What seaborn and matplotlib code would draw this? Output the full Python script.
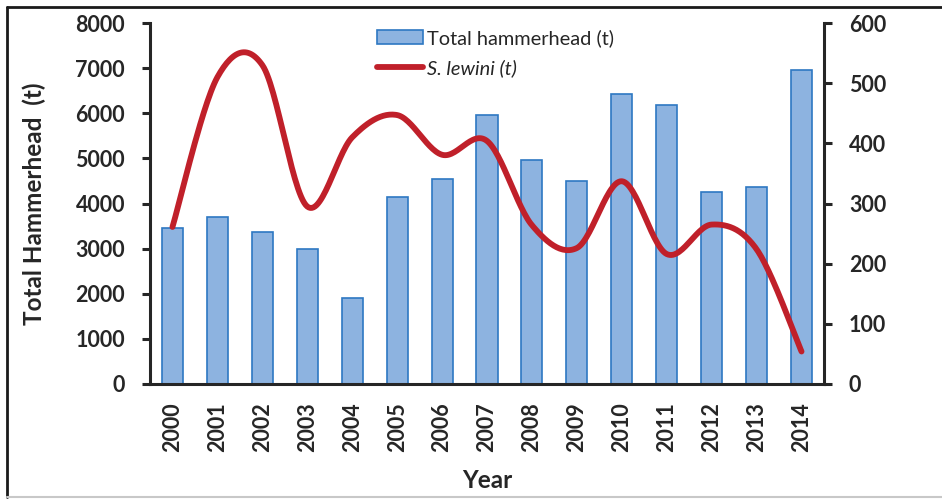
import numpy as np
import pandas as pd
import seaborn as sns
import matplotlib.pyplot as plt
from matplotlib.lines import Line2D

# data
years = [str(y) for y in range(2000, 2015)]
total_hammerhead = [3450, 3710, 3370, 2990, 1900, 4150, 4540, 5960, 4960, 4500,
                    6430, 6190, 4250, 4360, 6950]
s_lewini = [261, 510, 530, 295, 410, 447, 381, 404, 264, 226, 337, 216, 265, 224, 54]

BAR_FILL = "#8DB3E0"
BAR_EDGE = "#2E78C2"
LINE_RED = "#C0202A"
INK = "#262626"

df = pd.DataFrame({"Year": years, "Total": total_hammerhead, "Lewini": s_lewini})

sns.set_style("white")
plt.rcParams["font.family"] = ["Lato", "DejaVu Sans"]

fig = plt.figure(figsize=(9.42, 4.99), dpi=100)
ax = fig.add_axes([150 / 942, 1 - 384 / 499, 674 / 942, 361 / 499])

sns.barplot(data=df, x="Year", y="Total", color=BAR_FILL, width=0.47,
            edgecolor=BAR_EDGE, linewidth=1.2, saturation=1, ax=ax)
ax.set_xlim(-0.5, len(years) - 0.5)
ax.set_ylim(0, 8000)
ax.set_yticks(range(0, 8001, 1000))

# smoothed line like Excel (Catmull-Rom through the points)
def smooth(vals, steps=30):
    v = np.asarray(vals, dtype=float)
    n = len(v)
    xs, ys = [], []
    for i in range(n - 1):
        p0 = v[i - 1] if i > 0 else v[i]
        p3 = v[i + 2] if i + 2 < n else v[i + 1]
        x0 = i - 1 if i > 0 else i
        x3 = i + 2 if i + 2 < n else i + 1
        m1y, m2y = (v[i + 1] - p0) / 2, (p3 - v[i]) / 2
        m1x, m2x = (i + 1 - x0) / 2, (x3 - i) / 2
        t = np.linspace(0, 1, steps)
        h00 = 2 * t**3 - 3 * t**2 + 1
        h10 = t**3 - 2 * t**2 + t
        h01 = -2 * t**3 + 3 * t**2
        h11 = t**3 - t**2
        xs.append(h00 * i + h10 * m1x + h01 * (i + 1) + h11 * m2x)
        ys.append(h00 * v[i] + h10 * m1y + h01 * v[i + 1] + h11 * m2y)
    return np.concatenate(xs), np.concatenate(ys)

ax2 = ax.twinx()
sx, sy = smooth(df["Lewini"])
ax2.plot(sx, sy, color=LINE_RED, lw=4.2, solid_capstyle="round")
ax2.set_ylim(0, 600)
ax2.set_yticks(range(0, 601, 100))
ax2.set_xlim(-0.5, len(years) - 0.5)

# axes styling
for a in (ax, ax2):
    a.spines["top"].set_visible(False)
    a.grid(False)
ax.spines["right"].set_visible(False)
ax2.spines["left"].set_visible(False)
ax2.spines["bottom"].set_visible(False)
for sp in (ax.spines["left"], ax.spines["bottom"], ax2.spines["right"]):
    sp.set_linewidth(2.2)
    sp.set_color(INK)

ax.tick_params(axis="y", direction="out", length=6, width=2.2, color=INK,
               labelsize=15.5, labelcolor=INK, pad=12)
ax2.tick_params(axis="y", direction="out", length=6, width=2.2, color=INK,
                labelsize=15.5, labelcolor=INK, pad=12)
ax.set_xticks(range(len(years)))
ax.set_xticklabels(years, rotation=90)
ax.set_xticks(np.arange(-0.5, len(years), 1), minor=True)
ax.tick_params(axis="x", which="major", length=0, labelsize=15.5, labelcolor=INK, pad=13)
ax.tick_params(axis="x", which="minor", direction="out", length=7, width=2.2, color=INK)
for lab in ax.get_xticklabels() + ax.get_yticklabels() + ax2.get_yticklabels():
    lab.set_fontweight("bold")

ax.set_xlabel("Year", fontsize=17.5, fontweight="bold", color=INK, labelpad=12)
ax.set_ylabel("Total Hammerhead  (t)", fontsize=17.5, fontweight="bold", color=INK,
              labelpad=21)
ax2.set_ylabel("")

# legend
bar_handle = ax.patches[0]
line_handle = Line2D([], [], color=LINE_RED, lw=4.2, solid_capstyle="round")
leg = ax2.legend([bar_handle, line_handle], ["Total hammerhead (t)", "S. lewini (t)"],
                 loc="upper left", bbox_to_anchor=(377 / 942, 1 - 29 / 499),
                 bbox_transform=fig.transFigure, frameon=False, fontsize=14.4,
                 handlelength=2.3, handletextpad=0.2, labelspacing=0.6,
                 borderpad=0, borderaxespad=0)
for t in leg.get_texts():
    t.set_color(INK)
leg.get_texts()[1].set_style("italic")

# outer frame
fig.add_artist(Line2D([7 / 942, 1], [1 - 7 / 499] * 2, transform=fig.transFigure,
                      color="#1a1a1a", lw=2))
fig.add_artist(Line2D([7 / 942] * 2, [1 - 7 / 499, 2 / 499], transform=fig.transFigure,
                      color="#1a1a1a", lw=2))
fig.add_artist(Line2D([7 / 942, 1], [2 / 499] * 2, transform=fig.transFigure,
                      color="#c8c8c8", lw=1.5))

fig.savefig("out.png", dpi=100)
